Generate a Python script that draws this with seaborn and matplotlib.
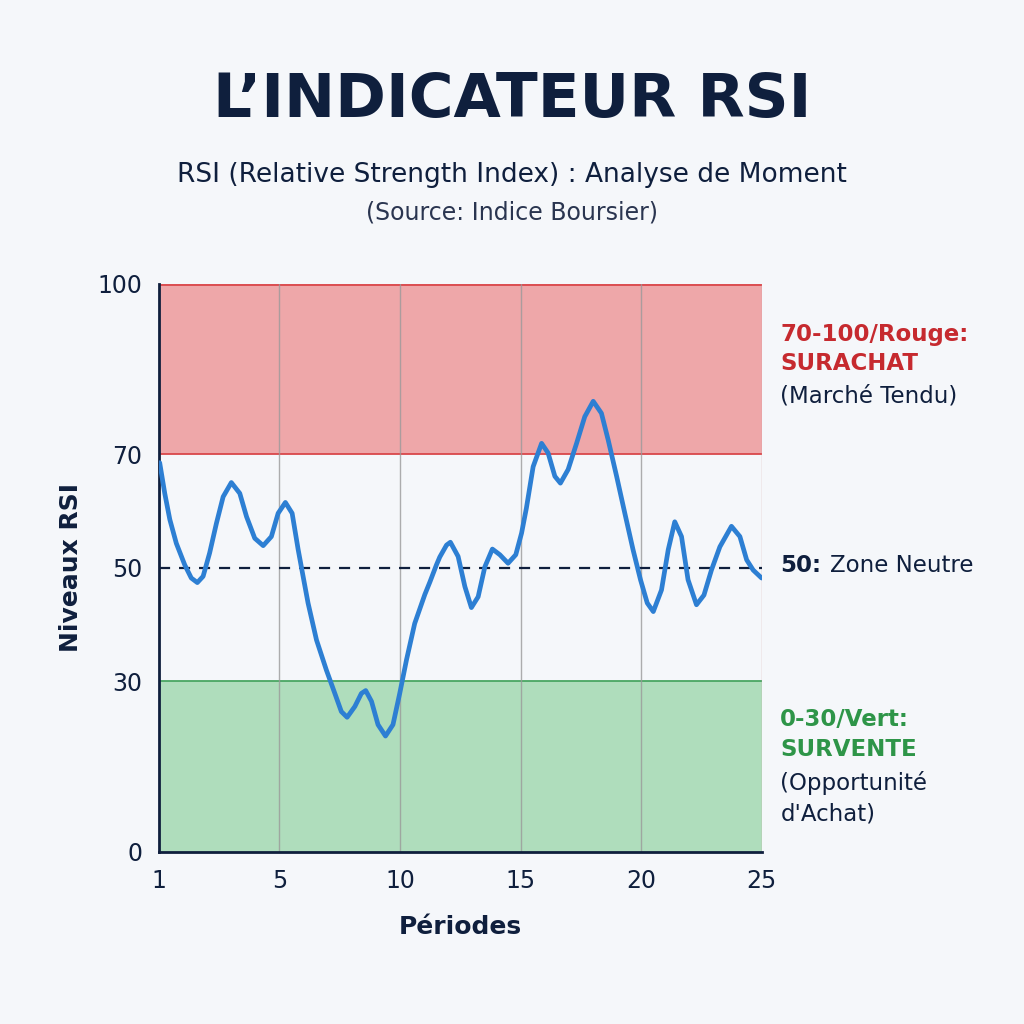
"""
plot.py - RSI chart
"""

import matplotlib.pyplot as plt
import seaborn as sns

# Data (x = position on the period axis, 0 is labelled "1")
periods = [0.04, 0.25, 0.46, 0.73, 1.08, 1.35, 1.6, 1.84, 2.11, 2.39, 2.67,
           3.01, 3.36, 3.64, 3.98, 4.33, 4.67, 4.95, 5.25, 5.53, 5.78, 5.98,
           6.19, 6.54, 6.95, 7.3, 7.57, 7.81, 8.13, 8.4, 8.58, 8.82, 9.09,
           9.4, 9.71, 9.99, 10.27, 10.61, 11.03, 11.24, 11.51, 11.65, 11.93,
           12.09, 12.41, 12.69, 12.96, 13.24, 13.52, 13.83, 14.14, 14.48,
           14.8, 15.04, 15.24, 15.52, 15.87, 16.14, 16.42, 16.65, 16.97,
           17.32, 17.66, 18.01, 18.35, 18.63, 18.98, 19.32, 19.66, 19.97,
           20.25, 20.5, 20.84, 21.12, 21.39, 21.67, 21.94, 22.29, 22.6,
           22.91, 23.26, 23.74, 24.09, 24.37, 24.64, 24.99]
rsi = [68.5, 63.1, 58.5, 54.3, 50.5, 48.2, 47.4, 48.5, 52.6, 57.8, 62.5,
       65.0, 63.1, 59.0, 55.2, 53.9, 55.5, 59.6, 61.5, 59.6, 53.2, 48.6,
       43.8, 37.3, 32.0, 27.9, 24.7, 23.7, 25.6, 27.9, 28.4, 26.5, 22.4,
       20.4, 22.4, 27.9, 33.8, 40.2, 45.3, 47.5, 50.5, 51.9, 54.0,
       54.5, 52.0, 46.7, 43.0, 44.9, 50.2, 53.3, 52.3, 50.8,
       52.3, 56.1, 60.5, 67.8, 71.9, 70.2, 66.1, 64.9, 67.3,
       71.9, 76.6, 79.3, 77.2, 72.5, 66.1, 59.6, 53.2, 47.9,
       43.8, 42.3, 46.1, 53.2, 58.1, 55.5, 47.9, 43.5, 45.2,
       49.6, 53.7, 57.3, 55.5, 51.4, 49.6, 48.2]

x_ticks = [0, 5, 10, 15, 20, 25]
x_labels = ["1", "5", "10", "15", "20", "25"]
y_ticks = [0, 30, 50, 70, 100]

navy = "#0f1f3d"
red = "#c62a2f"
green = "#2e9548"
bg = "#f5f7fa"

sns.set_theme(style="white")
plt.rcParams["font.family"] = ["DejaVu Sans"]

fig = plt.figure(figsize=(10.24, 10.24), dpi=100, facecolor=bg)
ax = fig.add_axes([0.155, 0.168, 0.589, 0.555], facecolor=bg)

# zones
ax.axhspan(70, 100, color="#eea3a5", alpha=0.95, lw=0, zorder=0)
ax.axhspan(0, 30, color="#acdcb9", alpha=0.95, lw=0, zorder=0)
ax.axhline(70, color="#d9474a", lw=1.3, zorder=1)
ax.axhline(99.8, color="#d9474a", lw=1.3, zorder=1)
ax.axhline(30, color="#4aa663", lw=1.3, zorder=1)
ax.axhline(50, color=navy, lw=1.6, ls=(0, (5, 4)), zorder=2)
for gx in [5, 10, 15, 20]:
    ax.axvline(gx, color="#9a9a9a", lw=1.0, alpha=0.8, zorder=1)
ax.axvline(25, color="#d0a0a0", lw=1.0, alpha=0.8, zorder=1)

sns.lineplot(x=periods, y=rsi, ax=ax, color="#2d7fd3", linewidth=3.4,
             zorder=3, sort=False)
ax.lines[-1].set_solid_joinstyle("round")
ax.lines[-1].set_solid_capstyle("round")

ax.set_xlim(0, 25)
ax.set_ylim(0, 100)
ax.set_xticks(x_ticks)
ax.set_xticklabels(x_labels)
ax.set_yticks(y_ticks)
ax.tick_params(axis="both", labelsize=17, colors=navy, length=6, width=1.5,
               direction="out", pad=6)
ax.tick_params(axis="x", length=0, pad=12)

for side in ["top", "right"]:
    ax.spines[side].set_visible(False)
for side in ["left", "bottom"]:
    ax.spines[side].set_color(navy)
    ax.spines[side].set_linewidth(2)

ax.set_xlabel("Périodes", fontsize=18, fontweight="bold", color=navy, labelpad=16)
ax.set_ylabel("Niveaux RSI", fontsize=18, fontweight="bold", color=navy, labelpad=10)

# titles
fig.text(0.5, 0.902, "L’INDICATEUR RSI", ha="center", va="center",
         fontsize=44, fontweight="bold", color=navy)
fig.text(0.5, 0.829, "RSI (Relative Strength Index) : Analyse de Moment",
         ha="center", va="center", fontsize=19, color=navy)
fig.text(0.5, 0.792, "(Source: Indice Boursier)", ha="center", va="center",
         fontsize=17, color="#2a3550")

# right-side annotations
tx = 0.762
fs = 16.5
fig.text(tx, 1 - 335 / 1024, "70-100/Rouge:", fontsize=fs, fontweight="bold",
         color=red, va="center")
fig.text(tx, 1 - 364 / 1024, "SURACHAT", fontsize=fs, fontweight="bold",
         color=red, va="center")
fig.text(tx, 1 - 396 / 1024, "(Marché Tendu)", fontsize=fs, color=navy, va="center")
fig.text(tx, 1 - 565 / 1024, "50:", fontsize=fs, fontweight="bold",
         color=navy, va="center")
fig.text(0.811, 1 - 565 / 1024, "Zone Neutre", fontsize=fs,
         color=navy, va="center")
fig.text(tx, 1 - 720 / 1024, "0-30/Vert:", fontsize=fs, fontweight="bold",
         color=green, va="center")
fig.text(tx, 1 - 750 / 1024, "SURVENTE", fontsize=fs, fontweight="bold",
         color=green, va="center")
fig.text(tx, 1 - 783 / 1024, "(Opportunité", fontsize=fs, color=navy, va="center")
fig.text(tx, 1 - 814 / 1024, "d'Achat)", fontsize=fs, color=navy, va="center")

fig.savefig("out.png", dpi=100, facecolor=bg)
plt.close(fig)
